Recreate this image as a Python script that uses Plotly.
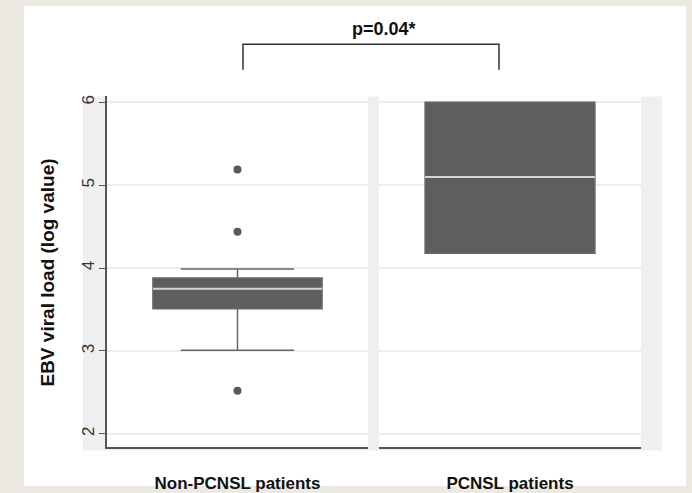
import plotly.graph_objects as go

# ---- data -------------------------------------------------------------
groups = ["Non-PCNSL patients", "PCNSL patients"]
q1_vals = [3.51, 4.18]
median_vals = [3.75, 5.10]
q3_vals = [3.88, 6.00]
lower_whisker = [3.01, 4.18]
upper_whisker = [3.99, 6.00]
outliers_non_pcnsl = [5.19, 4.44, 2.52]
y_ticks = [2, 3, 4, 5, 6]
p_text = "p=0.04*"

# ---- page geometry (pixels) ---------------------------------------------
W, H = 692, 493


def px(x):
    return x / W


def py(y):
    return 1 - y / H


BOX_FILL = "#5e5e5e"
WHISKER = "#666666"
MEDIAN = "#d6d6d6"
FRAME = "#efefef"
BEIGE = "#ece9e2"
GRID = "#ececec"
AXIS = "#555555"
FONT = "Liberation Sans, Arial, sans-serif"

box_width = 0.648

fig = go.Figure()

axes = ["x", "x2"]
for i, name in enumerate(groups):
    fig.add_trace(go.Box(
        x=[0], q1=[q1_vals[i]], median=[median_vals[i]], q3=[q3_vals[i]],
        lowerfence=[lower_whisker[i]], upperfence=[upper_whisker[i]],
        width=box_width, whiskerwidth=0.67,
        fillcolor=BOX_FILL, line=dict(color=WHISKER, width=1.5),
        boxpoints=False, xaxis=axes[i], yaxis="y", showlegend=False,
        hoverinfo="skip", name=name,
    ))
    # lighter median bar drawn over the dark box body
    fig.add_trace(go.Scatter(
        x=[-box_width / 2, box_width / 2], y=[median_vals[i]] * 2,
        mode="lines", line=dict(color=MEDIAN, width=2),
        xaxis=axes[i], yaxis="y", showlegend=False, hoverinfo="skip",
    ))

fig.add_trace(go.Scatter(
    x=[0] * len(outliers_non_pcnsl), y=outliers_non_pcnsl, mode="markers",
    marker=dict(color="#5a5a5a", size=8), xaxis="x", yaxis="y",
    showlegend=False, hoverinfo="skip",
))

# y range chosen so 6 and 2 sit just inside the panel edges
y_range = [1.846, 6.071]
panel_top, panel_bottom = 97, 453
left_panel = (107, 368)
right_panel = (379, 641)

xcommon = dict(
    range=[-0.5, 0.5], showgrid=False, zeroline=False,
    showline=True, linecolor=AXIS, linewidth=1.5,
    tickvals=[0], ticks="", ticklabelstandoff=20,
    tickfont=dict(family=FONT, size=17, color="#111111"),
    fixedrange=True,
)


def rect(x0, x1, y0, y1, color):
    return dict(type="rect", xref="paper", yref="paper", x0=px(x0), x1=px(x1),
                y0=py(y1), y1=py(y0), fillcolor=color, line=dict(width=0),
                layer="below")


fig.update_layout(
    width=W, height=H, margin=dict(l=0, r=0, t=0, b=0),
    paper_bgcolor=BEIGE, plot_bgcolor="rgba(0,0,0,0)",
    xaxis=dict(domain=[px(left_panel[0]), px(left_panel[1])],
               ticktext=[f"<b>{groups[0]}</b>"], anchor="y", **xcommon),
    xaxis2=dict(domain=[px(right_panel[0]), px(right_panel[1])],
                ticktext=[f"<b>{groups[1]}</b>"], anchor="y", **xcommon),
    yaxis=dict(
        domain=[py(panel_bottom), py(panel_top)], range=y_range,
        tickvals=y_ticks, ticktext=[str(t) for t in y_ticks],
        tickangle=-90, ticks="outside", ticklen=6, tickcolor=AXIS,
        ticklabelstandoff=-2,
        tickfont=dict(family=FONT, size=17, color="#333333"),
        showgrid=True, gridcolor=GRID, gridwidth=1.5, zeroline=False,
        showline=True, linecolor=AXIS, linewidth=1.5, anchor="x",
    ),
    shapes=[
        # white card on beige page
        rect(24, 686, 5, 493, "white"),
        # grey frame around the two panels
        rect(83, 662, 97, 457, FRAME),
        # white panel faces
        rect(left_panel[0], left_panel[1], panel_top, panel_bottom, "white"),
        rect(right_panel[0], right_panel[1], panel_top, panel_bottom, "white"),
        # significance bracket
        dict(type="path", xref="paper", yref="paper",
             path=f"M {px(243)},{py(70)} L {px(243)},{py(44)} L {px(499)},{py(44)} L {px(499)},{py(70)}",
             line=dict(color="#333333", width=1.5)),
    ],
    annotations=[
        dict(text=f"<b>{p_text}</b>", xref="paper", yref="paper", x=px(384), y=py(28),
             showarrow=False, font=dict(family=FONT, size=18, color="#111111"),
             xanchor="center", yanchor="middle"),
        dict(text="<b>EBV viral load (log value)</b>", xref="paper", yref="paper",
             x=px(48), y=py(276), textangle=-90, showarrow=False,
             font=dict(family=FONT, size=19, color="#111111"),
             xanchor="center", yanchor="middle"),
    ],
)

fig.write_html("out.html")
